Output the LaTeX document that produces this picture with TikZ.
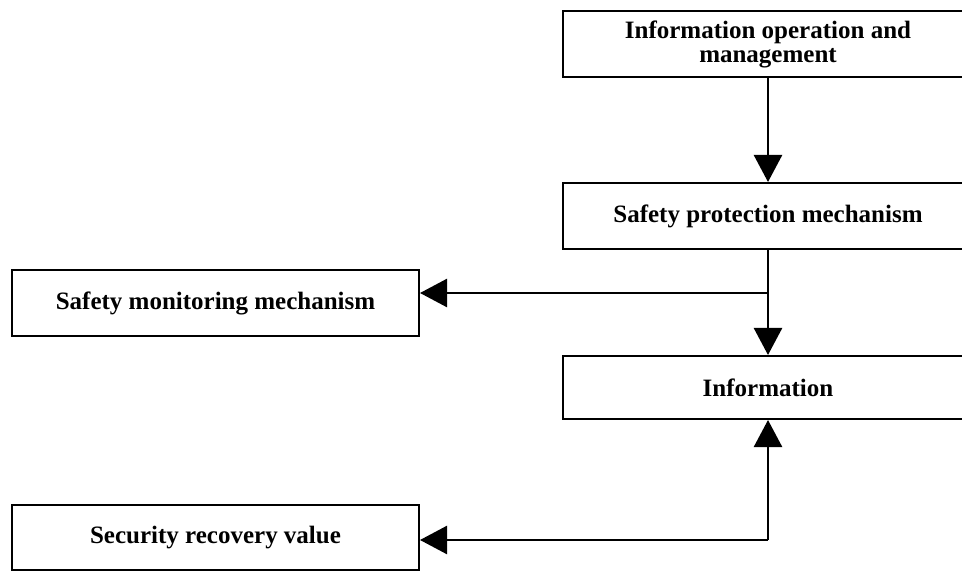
\documentclass[tikz,border=0pt]{standalone}
\usepackage{fontspec}
\setmainfont{Liberation Serif}
\usetikzlibrary{arrows.meta}

\begin{document}
\begin{tikzpicture}[x=1pt,y=-1pt,
	box/.style={draw=black,line width=2pt,rectangle,inner sep=0pt,align=center,
		font=\fontsize{25}{24}\selectfont\bfseries},
	flow/.style={draw=black,line width=2.5pt,-{Triangle[length=27pt,width=28pt]}}]
	\useasboundingbox (0,0) rectangle (962,572);
	\clip (0,0) rectangle (962,572);
	\node [box,minimum width=410pt,minimum height=66pt] (infoop) at (768,44) {Information operation and\\management};
	\node [box,minimum width=410pt,minimum height=66pt] (protect) at (768,216) {Safety protection mechanism};
	\node [box,minimum width=410pt,minimum height=63pt] (info) at (768,387.5) {Information};
	\node [box,minimum width=407pt,minimum height=66pt] (monitor) at (215.5,303) {Safety monitoring mechanism};
	\node [box,minimum width=407pt,minimum height=65pt] (recover) at (215.5,537.5) {Security recovery value};
	\coordinate (branch) at (768,293);
	\coordinate (corner) at (768,540);
	\draw [flow] (infoop.south) -- (protect.north);
	\draw [flow] (protect.south) -- (info.north);
	\draw [flow] (branch) -- (monitor.east |- branch);
	\draw [flow] (corner) -- (info.south);
	\draw [flow] (corner) -- (recover.east |- corner);
\end{tikzpicture}
\end{document}
